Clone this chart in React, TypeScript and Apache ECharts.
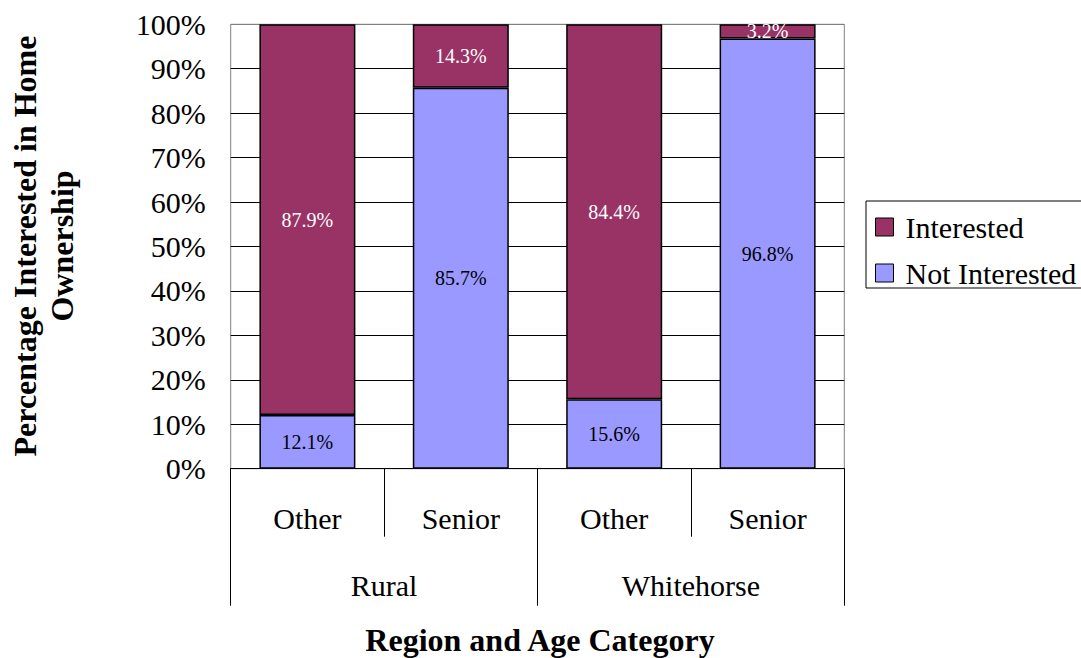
import React, { useEffect, useRef } from "react";
import * as echarts from "echarts";

const ageCategories = ["Other", "Senior", "Other", "Senior"];
const regions = ["Rural", "Whitehorse"];
const interested = [87.9, 14.3, 84.4, 3.2];
const notInterested = [12.1, 85.7, 15.6, 96.8];
const seriesNames = ["Interested", "Not Interested"];
const yTitle = "Percentage Interested in Home\nOwnership";
const xTitle = "Region and Age Category";

const FONT = "'Liberation Serif', 'Times New Roman', serif";

export default function App() {
  const ref = useRef<HTMLDivElement>(null);
  useEffect(() => {
    document.body.style.margin = "0";
    const chart = echarts.init(ref.current!, null, { renderer: "svg" });
    const splitColors = [
      "#000", "#000", "#000", "#000", "#000", "#000",
      "#000", "#000", "#000", "#000", "#808080",
    ];
    chart.setOption({
      animation: false,
      backgroundColor: "#fff",
      textStyle: { fontFamily: FONT },
      grid: {
        left: 230.7,
        right: 236.7,
        top: 24.3,
        bottom: 189.3,
        show: true,
        borderColor: "#808080",
        borderWidth: 1,
        backgroundColor: "transparent",
      },
      legend: {
        orient: "vertical",
        left: 866,
        top: 201,
        data: seriesNames,
        icon: "rect",
        itemWidth: 18,
        itemHeight: 18,
        itemGap: 16,
        padding: [11, 10, 0, 9],
        borderColor: "#000",
        borderWidth: 1,
        backgroundColor: "#fff",
        itemStyle: { borderColor: "#000", borderWidth: 1 },
        textStyle: {
          fontFamily: FONT,
          fontSize: 30,
          color: "#000",
          lineHeight: 22,
          padding: [0, 0, 0, 7],
        },
      },
      xAxis: [
        {
          type: "category",
          data: ageCategories,
          position: "bottom",
          axisLine: { show: true, lineStyle: { color: "#000", width: 1 } },
          axisTick: {
            show: true,
            length: 68,
            lineStyle: { color: "#000", width: 1 },
          },
          axisLabel: {
            interval: 0,
            margin: 35,
            fontFamily: FONT,
            fontSize: 30,
            lineHeight: 30,
            color: "#000",
          },
          splitLine: { show: false },
        },
        {
          type: "category",
          data: regions,
          position: "bottom",
          gridIndex: 0,
          axisLine: { show: false },
          axisTick: {
            show: true,
            length: 137,
            lineStyle: { color: "#000", width: 1 },
          },
          axisLabel: {
            interval: 0,
            margin: 102,
            fontFamily: FONT,
            fontSize: 30,
            lineHeight: 30,
            color: "#000",
          },
          splitLine: { show: false },
        },
      ],
      yAxis: {
        type: "value",
        min: 0,
        max: 100,
        interval: 10,
        axisLine: { show: false },
        axisTick: { show: false },
        axisLabel: {
          formatter: "{value}%",
          margin: 25,
          fontFamily: FONT,
          fontSize: 30,
          color: "#000",
        },
        splitLine: {
          show: true,
          lineStyle: { color: splitColors, width: 1 },
        },
      },
      series: [
        {
          name: seriesNames[1],
          type: "bar",
          stack: "total",
          barWidth: 96,
          data: notInterested,
          itemStyle: { color: "#9999FF", borderColor: "#000", borderWidth: 1.5 },
          label: {
            show: true,
            position: "inside",
            formatter: (p: any) => `${p.value.toFixed(1)}%`,
            fontFamily: FONT,
            fontSize: 20,
            color: "#000",
          },
        },
        {
          name: seriesNames[0],
          type: "bar",
          stack: "total",
          barWidth: 96,
          data: interested,
          itemStyle: { color: "#993366", borderColor: "#000", borderWidth: 1.5 },
          label: {
            show: true,
            position: "inside",
            formatter: (p: any) => `${p.value.toFixed(1)}%`,
            fontFamily: FONT,
            fontSize: 20,
            color: "#fff",
          },
        },
      ],
      graphic: [
        {
          type: "text",
          x: 43.5,
          y: 246,
          rotation: Math.PI / 2,
          style: {
            text: yTitle,
            font: `bold 32px ${FONT}`,
            fill: "#000",
            align: "center",
            verticalAlign: "middle",
            lineHeight: 37,
          },
        },
        {
          type: "text",
          x: 540,
          y: 640,
          style: {
            text: xTitle,
            font: `bold 32px ${FONT}`,
            fill: "#000",
            align: "center",
            verticalAlign: "middle",
          },
        },
      ],
    });
    return () => chart.dispose();
  }, []);
  return <div ref={ref} style={{ width: 1081, height: 658 }} />;
}
